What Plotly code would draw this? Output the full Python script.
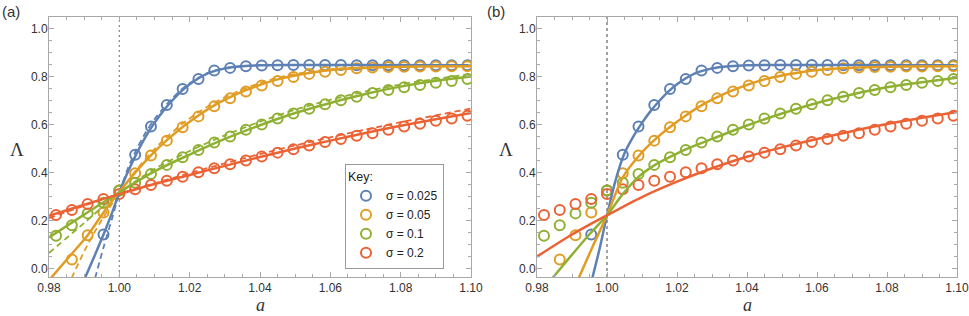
import plotly.graph_objects as go
from plotly.subplots import make_subplots

# ---------------- data ----------------
series_names = ["σ = 0.025", "σ = 0.05", "σ = 0.1", "σ = 0.2"]
colors = ["#5E81B5", "#E19C24", "#8FB032", "#EB6235"]

a_pts = [0.982, 0.9865, 0.991, 0.9955, 1.0, 1.0045, 1.009, 1.0135, 1.018, 1.0225,
         1.027, 1.0315, 1.036, 1.0405, 1.045, 1.0495, 1.054, 1.0585, 1.063, 1.0675,
         1.072, 1.0765, 1.081, 1.0855, 1.09, 1.0945, 1.099]

pts_s0025 = [None, None, None, 0.142, 0.325, 0.474, 0.592, 0.681, 0.748, 0.790,
             0.825, 0.836, 0.843, 0.846, 0.847, 0.848, 0.848, 0.848, 0.848, 0.847,
             0.847, 0.847, 0.847, 0.847, 0.847, 0.847, 0.847]
pts_s005 = [None, 0.038, 0.139, 0.234, 0.325, 0.397, 0.471, 0.533, 0.589, 0.634,
            0.676, 0.709, 0.738, 0.763, 0.781, 0.798, 0.811, 0.820, 0.827, 0.834,
            0.838, 0.840, 0.841, 0.842, 0.842, 0.843, 0.843]
pts_s01 = [0.137, 0.181, 0.230, 0.274, 0.325, 0.358, 0.394, 0.432, 0.464, 0.494,
           0.525, 0.550, 0.578, 0.600, 0.625, 0.646, 0.666, 0.684, 0.701, 0.716,
           0.731, 0.744, 0.755, 0.765, 0.774, 0.781, 0.790]
pts_s02 = [0.223, 0.244, 0.269, 0.290, 0.311, 0.330, 0.348, 0.366, 0.383, 0.401,
           0.418, 0.435, 0.450, 0.467, 0.483, 0.497, 0.513, 0.527, 0.540, 0.553,
           0.564, 0.578, 0.592, 0.603, 0.616, 0.625, 0.637]

# panel (a) solid curves
a_blue_x = [0.9902, 0.993, 0.9955, 0.998, 1.0, 1.0025, 1.005, 1.0075, 1.01, 1.0125,
            1.015, 1.0175, 1.02, 1.025, 1.03, 1.035, 1.04, 1.05, 1.07, 1.10]
a_blue_y = [-0.04, 0.055, 0.142, 0.235, 0.318, 0.405, 0.482, 0.55, 0.607, 0.657,
            0.699, 0.737, 0.768, 0.812, 0.834, 0.843, 0.847, 0.848, 0.848, 0.847]
a_orange_x = [0.9805, 0.9865, 0.991, 0.9955, 1.0, 1.0045, 1.009, 1.0135, 1.018, 1.0225,
              1.027, 1.0315, 1.036, 1.045, 1.054, 1.063, 1.072, 1.085, 1.10]
a_orange_y = [-0.04, 0.062, 0.139, 0.234, 0.32, 0.40, 0.472, 0.535, 0.59, 0.638,
              0.68, 0.714, 0.743, 0.788, 0.815, 0.831, 0.838, 0.842, 0.843]
grid_x = [0.98, 0.99, 1.0, 1.01, 1.02, 1.03, 1.04, 1.05, 1.06, 1.07, 1.08, 1.09, 1.10]
a_green_y = [0.13, 0.225, 0.318, 0.405, 0.475, 0.54, 0.597, 0.648, 0.69, 0.727, 0.758, 0.782, 0.80]
a_red_y = [0.22, 0.266, 0.31, 0.352, 0.39, 0.428, 0.465, 0.50, 0.533, 0.565, 0.595, 0.622, 0.648]

# panel (a) dashed curves
a_blue_dx = [0.9931, 0.9955, 0.998, 1.0, 1.0025, 1.005, 1.0075, 1.01, 1.0125, 1.015,
             1.0175, 1.02, 1.025, 1.03, 1.035, 1.04, 1.05, 1.07, 1.10]
a_blue_dy = [-0.04, 0.088, 0.212, 0.315, 0.42, 0.50, 0.567, 0.622, 0.668, 0.708,
             0.744, 0.772, 0.814, 0.835, 0.843, 0.847, 0.848, 0.848, 0.847]
a_orange_dx = [0.9864, 0.991, 0.9955, 1.0, 1.0045, 1.009, 1.0135, 1.018, 1.0225, 1.027,
               1.0315, 1.036, 1.045, 1.054, 1.063, 1.072, 1.085, 1.10]
a_orange_dy = [-0.04, 0.10, 0.215, 0.315, 0.405, 0.482, 0.548, 0.604, 0.651, 0.691,
               0.724, 0.752, 0.795, 0.82, 0.834, 0.84, 0.843, 0.843]
a_green_dy = [0.065, 0.19, 0.315, 0.415, 0.49, 0.555, 0.612, 0.662, 0.703, 0.738, 0.767, 0.79, 0.81]
a_red_dy = [0.21, 0.262, 0.312, 0.355, 0.398, 0.438, 0.477, 0.513, 0.547, 0.579, 0.61, 0.638, 0.667]

# panel (b) solid curves
b_blue_x = [0.9958, 0.998, 1.0, 1.0025, 1.005, 1.0075, 1.01, 1.0125, 1.015, 1.0175,
            1.02, 1.025, 1.03, 1.035, 1.04, 1.05, 1.07, 1.10]
b_blue_y = [-0.04, 0.09, 0.222, 0.37, 0.48, 0.55, 0.607, 0.657, 0.699, 0.737,
            0.768, 0.812, 0.834, 0.843, 0.847, 0.848, 0.848, 0.847]
b_orange_x = [0.9919, 0.996, 1.0, 1.0045, 1.009, 1.0135, 1.018, 1.0225, 1.027, 1.0315,
              1.036, 1.045, 1.054, 1.063, 1.072, 1.085, 1.10]
b_orange_y = [-0.04, 0.095, 0.222, 0.38, 0.468, 0.535, 0.59, 0.638, 0.68, 0.714,
              0.743, 0.788, 0.815, 0.831, 0.838, 0.842, 0.843]
b_green_x = [0.9844, 0.99, 0.995, 1.0, 1.0045, 1.009, 1.0135, 1.018, 1.0225, 1.03,
             1.04, 1.05, 1.06, 1.07, 1.08, 1.09, 1.10]
b_green_y = [-0.04, 0.058, 0.143, 0.222, 0.31, 0.382, 0.43, 0.465, 0.497, 0.54,
             0.596, 0.646, 0.69, 0.725, 0.755, 0.776, 0.795]
b_red_y = [0.05, 0.142, 0.222, 0.298, 0.362, 0.418, 0.466, 0.505, 0.54, 0.572, 0.602, 0.628, 0.652]

x_ticks = [0.98, 1.00, 1.02, 1.04, 1.06, 1.08, 1.10]
y_ticks = [0.0, 0.2, 0.4, 0.6, 0.8, 1.0]

# ---------------- figure ----------------
fig = make_subplots(rows=1, cols=2)

pts_all = [pts_s0025, pts_s005, pts_s01, pts_s02]

# circles
for col in (1, 2):
    for name, c, ys in zip(series_names, colors, pts_all):
        fig.add_trace(go.Scatter(
            x=a_pts, y=ys, mode="markers", name=name,
            marker=dict(symbol="circle-open", size=10, color=c, line=dict(width=2, color=c)),
            showlegend=(col == 1)), row=1, col=col)

def add_line(x, y, c, col, dash="solid", w=2.5):
    fig.add_trace(go.Scatter(x=x, y=y, mode="lines", showlegend=False,
                             line=dict(color=c, width=w, dash=dash, shape="spline", smoothing=0.8)),
                  row=1, col=col)

# panel (a)
add_line(a_blue_dx, a_blue_dy, colors[0], 1, dash="6px,4px", w=1.8)
add_line(a_orange_dx, a_orange_dy, colors[1], 1, dash="6px,4px", w=1.8)
add_line(grid_x, a_green_dy, colors[2], 1, dash="6px,4px", w=1.8)
add_line(grid_x, a_red_dy, colors[3], 1, dash="6px,4px", w=1.8)
add_line(a_blue_x, a_blue_y, colors[0], 1)
add_line(a_orange_x, a_orange_y, colors[1], 1)
add_line(grid_x, a_green_y, colors[2], 1)
add_line(grid_x, a_red_y, colors[3], 1)

# panel (b)
add_line(b_blue_x, b_blue_y, colors[0], 2)
add_line(b_orange_x, b_orange_y, colors[1], 2)
add_line(b_green_x, b_green_y, colors[2], 2)
add_line(grid_x, b_red_y, colors[3], 2)

W, H = 969, 316
dom_a = [49 / W, 471 / W]
dom_b = [537 / W, 957 / W]
dom_y = [1 - 277 / H, 1 - 16.5 / H]

frame = "#a8a8a8"
axis_common = dict(showline=True, linecolor=frame, linewidth=1, mirror="ticks",
                   ticks="inside", ticklen=5, tickcolor=frame, tickwidth=1,
                   showgrid=False, zeroline=False, automargin=False,
                   ticklabeloverflow="allow",
                   tickfont=dict(family="Liberation Sans, Arial", size=12, color="#333"))

xa = dict(axis_common, range=[0.98, 1.10], tickvals=x_ticks, tickformat=".2f",
          ticklabelstandoff=0,
          minor=dict(ticks="inside", ticklen=3, dtick=0.005, tick0=0.98, tickcolor=frame, showgrid=False))
ya = dict(axis_common, range=[-0.035, 1.05], tickvals=y_ticks, tickformat=".1f",
          ticklabelstandoff=-2,
          minor=dict(ticks="inside", ticklen=3, dtick=0.05, tick0=0, tickcolor=frame, showgrid=False))

fig.update_layout(
    width=W, height=H,
    margin=dict(l=0, r=0, t=0, b=0, autoexpand=False),
    paper_bgcolor="white", plot_bgcolor="white",
    xaxis=dict(xa, domain=dom_a), xaxis2=dict(xa, domain=dom_b),
    yaxis=dict(ya, domain=dom_y), yaxis2=dict(ya, domain=dom_y),
    legend=dict(x=345 / W, y=1 - 164 / H, xanchor="left", yanchor="top",
                bgcolor="white", bordercolor="#999", borderwidth=1,
                font=dict(family="Liberation Sans, Arial", size=12, color="#222"),
                title=dict(text="Key:", font=dict(family="Liberation Sans, Arial", size=12.5, color="#222")),
                itemwidth=30, tracegroupgap=0),
    showlegend=True,
)

# vertical reference lines at a = 1
fig.add_shape(type="line", x0=1.0, x1=1.0, y0=0, y1=1, xref="x", yref="y domain",
              line=dict(color="#888", width=1.2, dash="2px,3px"), layer="below")
fig.add_shape(type="line", x0=1.0, x1=1.0, y0=0, y1=1, xref="x2", yref="y2 domain",
              line=dict(color="#444", width=1, dash="3px,3px"), layer="below")

# labels
serif = "Liberation Serif, Times New Roman, serif"
for cx, lx in [((dom_a[0] + dom_a[1]) / 2, 17 / W), ((dom_b[0] + dom_b[1]) / 2, 506 / W)]:
    fig.add_annotation(x=cx, y=0, xref="paper", yref="paper", showarrow=False,
                       xanchor="center", yanchor="bottom", borderpad=0,
                       text="<i>a</i>", font=dict(family=serif, size=18, color="#333"))
    fig.add_annotation(x=lx, y=1 - 149 / H, xref="paper", yref="paper", showarrow=False,
                       xanchor="center", yanchor="middle",
                       text="Λ", font=dict(family=serif, size=19, color="#333"))
fig.add_annotation(x=0, y=1 - 12 / H, xref="paper", yref="paper", xanchor="left", yanchor="middle",
                   showarrow=False,
                   text="(a)", font=dict(family="Liberation Sans, Arial", size=15, color="#333"))
fig.add_annotation(x=485 / W, y=1 - 12 / H, xref="paper", yref="paper", xanchor="left", yanchor="middle",
                   showarrow=False,
                   text="(b)", font=dict(family="Liberation Sans, Arial", size=15, color="#333"))

fig.write_html("out.html", config={"displayModeBar": False},
               post_script="document.body.style.margin='0px';")
